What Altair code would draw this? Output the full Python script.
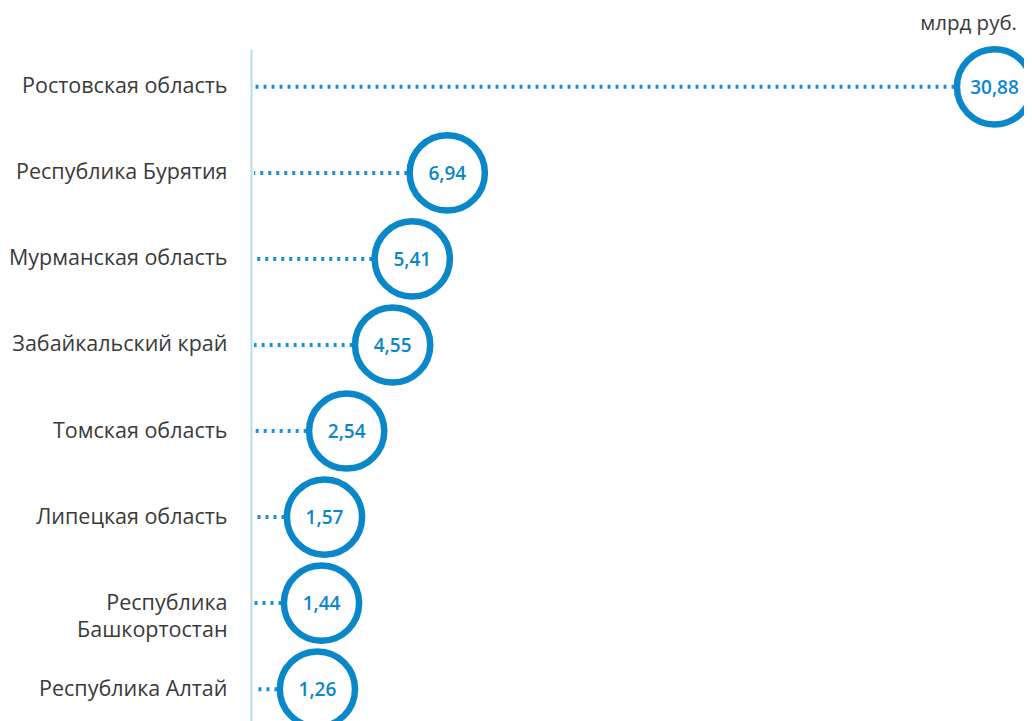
import altair as alt
import pandas as pd

regions = [
    "Ростовская область",
    "Республика Бурятия",
    "Мурманская область",
    "Забайкальский край",
    "Томская область",
    "Липецкая область",
    "Республика|Башкортостан",
    "Республика Алтай",
]
values = [30.88, 6.94, 5.41, 4.55, 2.54, 1.57, 1.44, 1.26]
unit_label = "млрд руб."

df = pd.DataFrame({"region": regions, "value": values})
df["label"] = [f"{v:.2f}".replace(".", ",") for v in values]

BLUE = "#0a87c9"
DOT = "#1a90d6"
TXT = "#3a3a3a"
xscale = alt.Scale(domain=[-1.645, 31.6], nice=False, zero=False)
yscale = alt.Scale(type="point", padding=0.44)

base = alt.Chart(df)

y_enc = alt.Y(
    "region:N",
    sort=regions,
    scale=yscale,
    axis=alt.Axis(
        title=None,
        ticks=False,
        grid=False,
        domain=True,
        domainColor="#b7dfe2",
        domainWidth=2,
        labelPadding=24,
        labelFont="Open Sans",
        labelFontSize=21.5,
        labelColor=TXT,
        labelExpr="split(datum.label, '|')",
        labelLineHeight=27,
        labelLimit=300,
    ),
)
x_enc = alt.X("value:Q", scale=xscale, axis=None)

rules = base.mark_rule(
    color=DOT, strokeWidth=4, strokeDash=[3, 5]
).encode(
    x=x_enc,
    x2=alt.value(3),
    y=y_enc,
)

circles = base.mark_point(
    shape="circle", filled=False, fill="white", fillOpacity=1,
    stroke=BLUE, strokeWidth=6.5, size=5655, opacity=1,
).encode(x=x_enc, y=y_enc)

labels = base.mark_text(
    font="Open Sans", fontSize=19, fontWeight=600, color=BLUE,
    align="center", baseline="middle", dy=1,
).encode(x=x_enc, y=y_enc, text="label:N")

unit = alt.Chart(pd.DataFrame({"t": [unit_label]})).mark_text(
    font="Open Sans", fontSize=20.5, color=TXT, align="right", baseline="middle",
).encode(
    x=alt.value(766),
    y=alt.value(-25),
    text="t:N",
)

chart = alt.layer(rules, circles, labels, unit).properties(
    width=760, height=678,
    background="white",
    autosize=alt.AutoSizeParams(type="none"),
    padding={"left": 243, "top": 41, "right": 13, "bottom": 0},
).configure_view(strokeWidth=0, stroke="transparent").configure_axis(grid=False)

chart.save("out.html", embed_options={"renderer": "svg", "actions": False})
